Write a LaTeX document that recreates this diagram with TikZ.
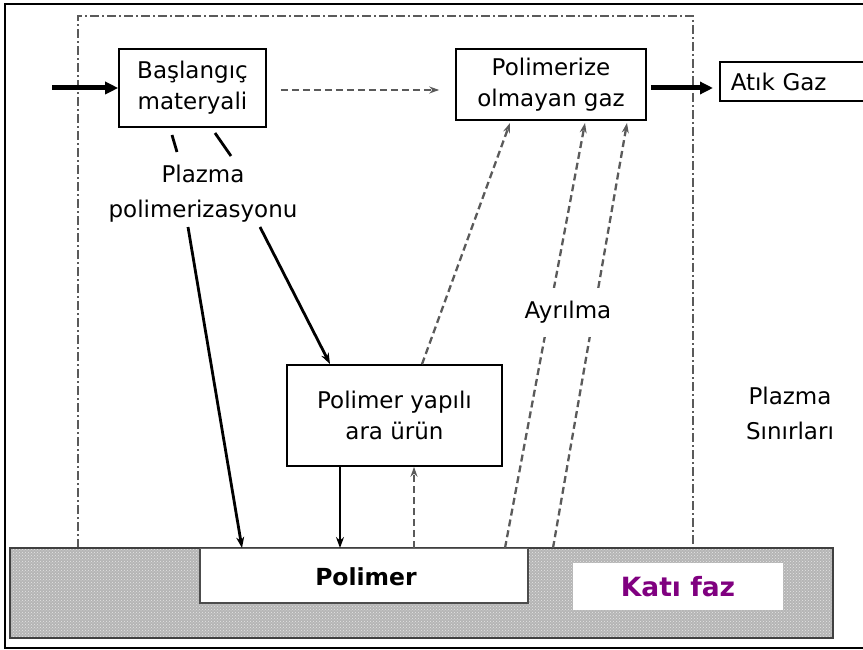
\documentclass[tikz,border=0pt]{standalone}
\usepackage{fontspec}
\setmainfont{DejaVu Sans}
\usepackage{tikz}
\usetikzlibrary{arrows.meta,positioning,patterns}
\definecolor{gaz}{RGB}{90,90,90}
\definecolor{katicol}{RGB}{128,0,128}

\begin{document}
\begin{tikzpicture}[
  x=1pt, y=-1pt,
  kutu/.style={rectangle, draw, line width=1.6pt, inner sep=0pt,
               align=center, font=\fontsize{23}{31}\selectfont},
  etiket/.style={align=center, inner sep=1pt, font=\fontsize{23}{35}\selectfont},
  kalin/.style={-{Triangle[length=13pt,width=12pt]}, line width=5pt},
  akis/.style={-{Stealth[length=11pt,width=8pt]}, line width=2.8pt},
  gazok/.style={-{Stealth[length=10pt,width=7pt]}, gaz, line width=2.3pt,
                dash pattern=on 7pt off 4pt},
  sinir/.style={gaz, line width=1.3pt, dash pattern=on 9pt off 3pt on 2pt off 3pt},
  >=Stealth
]
  \clip (0,0) rectangle (863,650);

  %--- Frame ---
  \draw[line width=2.8pt] (863,4) -- (5,4) -- (5,648) -- (863,648);

  %--- Plasma boundary ---
  \draw[sinir] (78,548) -- (78,16) -- (693,16) -- (693,548);

  %--- Solid phase ---
  \fill[gray!58] (10,548) rectangle (833,638);
  \fill[pattern=crosshatch dots, pattern color=gray!20] (10,548) rectangle (833,638);
  \draw[line width=2.4pt, black!75] (10,548) rectangle (833,638);
  \fill[white] (200,548) rectangle (528,603);
  \draw[line width=1.6pt, black!70] (200,548) -- (200,603) -- (528,603) -- (528,548);
  \draw[line width=1pt, black!60] (200,548) -- (528,548);
  \node[fill=white, minimum width=210pt, minimum height=47pt, inner sep=0pt,
        font=\fontsize{26.5}{30}\selectfont\bfseries, text=katicol] (kati) at (678,586.5) {Katı faz};
  \node[font=\fontsize{23.5}{26}\selectfont\bfseries] (polimer) at (366,577) {Polimer};

  % points on the surface
  \coordinate (s1) at (242,548);
  \coordinate (s2) at (340,548);
  \coordinate (s3) at (414,548);
  \coordinate (s4) at (505,548);
  \coordinate (s5) at (553,548);

  %--- Boxes ---
  \node[kutu, minimum width=147pt, minimum height=78pt] (bas) at (192.5,88) {Başlangıç\\materyali};
  \node[kutu, minimum width=190pt, minimum height=71pt] (pol) at (551,84.5) {Polimerize\\olmayan gaz};
  \node[kutu, minimum width=160pt, minimum height=39pt, anchor=west,
        text width=150pt, align=left] (atik) at (719,81.5) {\hspace*{6pt}Atık Gaz};
  \node[kutu, minimum width=215pt, minimum height=101pt] (ara) at (394.5,415.5) {Polimer yapılı\\ara ürün};

  %--- Labels ---
  \node[etiket] (plz) at (203,194) {Plazma\\polimerizasyonu};
  \coordinate (giris) at (52,88);
  \coordinate (p1) at (188,227);
  \coordinate (p2) at (260,227);
  \coordinate (gazyol) at (0,90);

  %--- Arrows ---
  \draw[kalin] (giris) -- (bas.west |- giris);
  \draw[kalin, shorten <=4pt, shorten >=6pt] (pol.east |- giris) -- (atik.west |- giris);
  \draw[gazok, shorten <=14pt, shorten >=16pt] (bas.east |- gazyol) -- (pol.west |- gazyol);

  % plasma polymerization
  \draw[line width=2.8pt] (172,135) -- (177,152);
  \draw[line width=2.8pt] (215,133) -- (231,156);
  \draw[akis] (p1) -- (s1);
  \draw[akis] (p2) -- (330,364);
  \draw[akis] (ara.south -| s2) -- (s2);
  \draw[gazok] (s3) -- (ara.south -| s3);
  \draw[gazok] (ara.north -| 422,0) -- (510,123);

  % separation
  \foreach \s/\x in {s4/585, s5/627}{
    \draw[gazok] (\s) -- (\x,123);
  }
  \node[etiket, fill=white, inner sep=0pt, minimum width=120pt,
        minimum height=49pt] (ayr) at (568,312) {Ayrılma};
  \node[etiket] (sinirlar) at (790,413) {Plazma\\Sınırları};

\end{tikzpicture}
\end{document}
